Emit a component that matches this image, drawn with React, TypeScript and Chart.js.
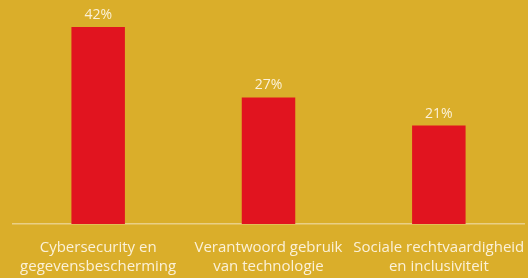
import React, { useEffect, useRef } from "react";
import { Chart, registerables } from "chart.js";

Chart.register(...registerables);

const categories: string[][] = [
  ["Cybersecurity en", "gegevensbescherming"],
  ["Verantwoord gebruik", "van technologie"],
  ["Sociale rechtvaardigheid", "en inclusiviteit"],
];
const values: number[] = [42, 27, 21];
const valueLabels: string[] = ["42%", "27%", "21%"];

const BG = "#DAAE2A";
const BAR = "#E1141F";
const TEXT = "#FBF1D8";

const valueLabelPlugin = {
  id: "valueLabels",
  afterDatasetsDraw(chart: any) {
    const ctx = chart.ctx;
    const meta = chart.getDatasetMeta(0);
    ctx.save();
    ctx.fillStyle = TEXT;
    ctx.font = "500 14px 'Open Sans', sans-serif";
    ctx.textAlign = "center";
    ctx.textBaseline = "middle";
    meta.data.forEach((el: any, i: number) => {
      ctx.fillText(valueLabels[i], el.x, el.y - 12);
    });
    ctx.restore();
  },
};

export default function App() {
  const ref = useRef<HTMLCanvasElement>(null);
  useEffect(() => {
    document.body.style.margin = "0";
    document.body.style.background = BG;
    const chart = new Chart(ref.current!, {
      type: "bar",
      data: {
        labels: categories,
        datasets: [
          {
            data: values,
            backgroundColor: BAR,
            borderWidth: 0,
            barPercentage: 0.314,
            categoryPercentage: 1,
          },
        ],
      },
      options: {
        animation: false,
        responsive: false,
        maintainAspectRatio: false,
        layout: { padding: { left: 13, right: 4, top: 13, bottom: 0 } },
        plugins: { legend: { display: false }, tooltip: { enabled: false } },
        scales: {
          y: { display: false, min: 0, max: 45 },
          x: {
            grid: { display: false, drawTicks: false },
            border: { display: true, color: "#E9CF86", width: 1.5 },
            ticks: {
              color: TEXT,
              font: { family: "'Open Sans', sans-serif", size: 15, lineHeight: 1.27 },
              padding: 14,
              maxRotation: 0,
              autoSkip: false,
            },
            afterFit: (axis: any) => {
              axis.height = 54;
              axis.paddingLeft = 0;
              axis.paddingRight = 0;
            },
          },
        },
      },
      plugins: [valueLabelPlugin],
    });
    return () => chart.destroy();
  }, []);
  return (
    <div style={{ width: 528, height: 278, background: BG }}>
      <canvas ref={ref} width={528} height={278} />
    </div>
  );
}
